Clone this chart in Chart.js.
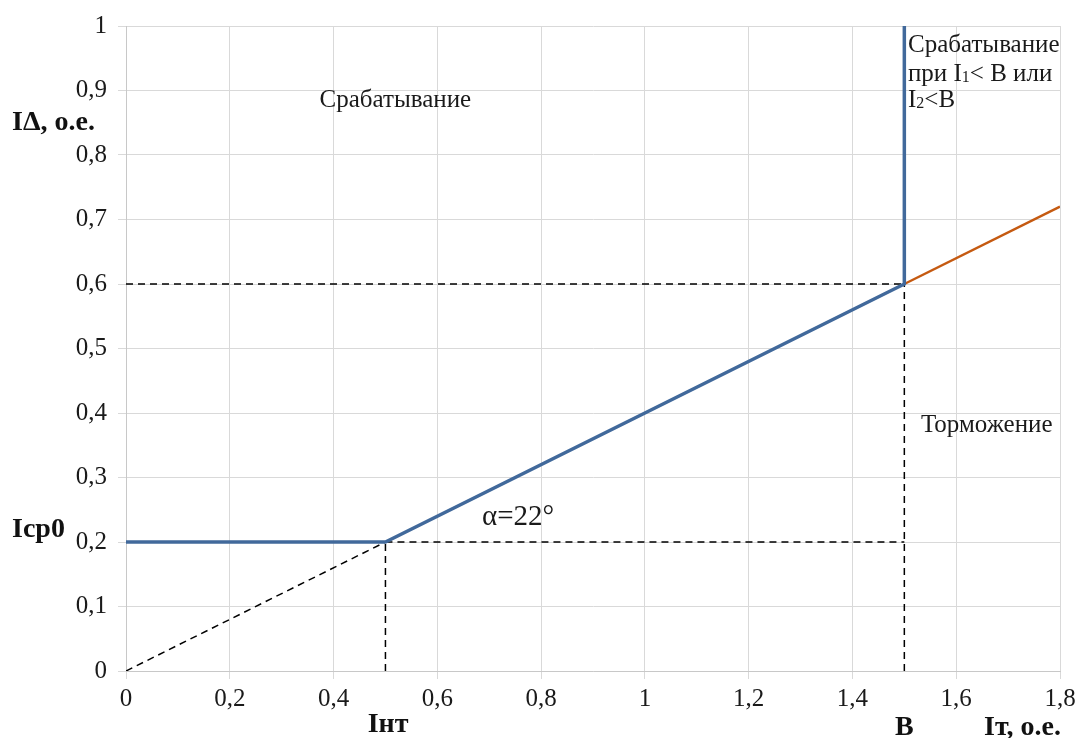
<!DOCTYPE html>
<html>
<head>
<meta charset="utf-8">
<script src="https://cdn.jsdelivr.net/npm/chart.js@4/dist/chart.umd.min.js"></script>
<style>
  html, body { margin: 0; padding: 0; background: #fff; }
  #wrap { width: 1077px; height: 738px; }
</style>
</head>
<body>
<div id="wrap"><canvas id="c" width="1077" height="738"></canvas></div>
<script>
// Tick values of both axes
const xTickValues = [0, 0.2, 0.4, 0.6, 0.8, 1, 1.2, 1.4, 1.6, 1.8];
const yTickValues = [0, 0.1, 0.2, 0.3, 0.4, 0.5, 0.6, 0.7, 0.8, 0.9, 1];

// Operating characteristic (blue): flat part, restrained slope, cut-off at B
const operateX = [0, 0.5, 1.5, 1.5];
const operateY = [0.2, 0.2, 0.6, 1.0];

// Continuation of the slope beyond B (orange)
const extendX = [1.5, 1.8];
const extendY = [0.6, 0.72];

// Dashed construction lines
const originGuideX = [0, 0.5];
const originGuideY = [0, 0.2];
const intGuideX = [0.5, 0.5];
const intGuideY = [0, 0.2];
const baseGuideX = [0.5, 1.5];
const baseGuideY = [0.2, 0.2];
const bGuideX = [1.5, 1.5];
const bGuideY = [0, 0.6];
const topGuideX = [0, 1.5];
const topGuideY = [0.6, 0.6];

const SERIF = "'Liberation Serif', 'Times New Roman', serif";

function pts(xs, ys) {
  return xs.map((x, i) => ({ x: x, y: ys[i] }));
}
function dashed(xs, ys) {
  return {
    data: pts(xs, ys),
    showLine: true,
    borderColor: '#000000',
    borderWidth: 1.5,
    borderDash: [7, 5],
    pointRadius: 0,
    fill: false,
    order: 3
  };
}
function fmt(v) {
  return String(v).replace('.', ',');
}

// Text drawn inside the plot, anchored at data coordinates
const plotTexts = [
  { parts: [{ t: 'Срабатывание' }], x: 0.373, y: 0.884, size: 25 },
  { parts: [{ t: 'Срабатывание' }], x: 1.507, y: 0.9705, size: 25 },
  { parts: [{ t: 'при I' }, { t: '1', sub: true }, { t: '< B или' }], x: 1.507, y: 0.9256, size: 25 },
  { parts: [{ t: 'I' }, { t: '2', sub: true }, { t: '<B' }], x: 1.507, y: 0.8853, size: 25 },
  { parts: [{ t: 'Торможение' }], x: 1.532, y: 0.381, size: 25 },
  { parts: [{ t: 'α=22°' }], x: 0.686, y: 0.238, size: 29 }
];

// Axis captions drawn outside the plot area
const captions = [
  { t: 'IΔ, о.е.', px: 12, py: 123, align: 'left' },
  { t: 'Iср0', px: 12, py: 530, align: 'left' },
  { t: 'Iнт', xv: 0.505, py: 725, align: 'center' },
  { t: 'B', xv: 1.5, py: 728, align: 'center' },
  { t: 'Iт, о.е.', px: 984, py: 728, align: 'left' }
];

function drawRich(ctx, parts, x, y, size) {
  let cx = x;
  parts.forEach(p => {
    if (p.sub) {
      ctx.font = Math.round(size * 0.62) + 'px ' + SERIF;
      ctx.fillText(p.t, cx, y + size * 0.17);
    } else {
      ctx.font = size + 'px ' + SERIF;
      ctx.fillText(p.t, cx, y);
    }
    cx += ctx.measureText(p.t).width;
  });
}

const textPlugin = {
  id: 'chartTexts',
  afterDraw(chart) {
    const ctx = chart.ctx;
    const xs = chart.scales.x, ys = chart.scales.y;
    ctx.save();
    ctx.fillStyle = '#1a1a1a';
    ctx.textBaseline = 'middle';
    ctx.textAlign = 'left';
    plotTexts.forEach(item => {
      drawRich(ctx, item.parts, xs.getPixelForValue(item.x), ys.getPixelForValue(item.y), item.size);
    });
    ctx.fillStyle = '#111';
    ctx.font = 'bold 28px ' + SERIF;
    captions.forEach(c => {
      ctx.textAlign = c.align;
      const px = (c.xv !== undefined) ? xs.getPixelForValue(c.xv) : c.px;
      ctx.fillText(c.t, px, c.py);
    });
    ctx.restore();
  }
};

new Chart(document.getElementById('c'), {
  type: 'scatter',
  data: {
    datasets: [
      dashed(originGuideX, originGuideY),
      dashed(intGuideX, intGuideY),
      dashed(baseGuideX, baseGuideY),
      dashed(bGuideX, bGuideY),
      dashed(topGuideX, topGuideY),
      {
        data: pts(extendX, extendY),
        showLine: true,
        borderColor: '#c55a11',
        borderWidth: 2.5,
        pointRadius: 0,
        fill: false,
        order: 2
      },
      {
        data: pts(operateX, operateY),
        showLine: true,
        borderColor: '#41699b',
        borderWidth: 3.5,
        pointRadius: 0,
        fill: false,
        borderJoinStyle: 'miter',
        order: 1
      }
    ]
  },
  options: {
    responsive: false,
    animation: false,
    devicePixelRatio: 1,
    layout: { padding: { left: 0, right: 17, top: 26, bottom: 0 } },
    plugins: {
      legend: { display: false },
      tooltip: { enabled: false }
    },
    scales: {
      x: {
        type: 'linear',
        min: 0,
        max: 1.8,
        afterBuildTicks: s => { s.ticks = xTickValues.map(v => ({ value: v })); },
        afterFit: s => { s.height = 67; s.paddingLeft = 0; s.paddingRight = 0; },
        grid: { color: '#d9d9d9', lineWidth: 1, tickLength: 8, tickColor: '#d9d9d9' },
        border: { color: '#c8c8c8', width: 1 },
        ticks: {
          maxRotation: 0,
          autoSkip: false,
          padding: 5,
          color: '#1a1a1a',
          font: { family: SERIF, size: 25 },
          callback: v => fmt(v)
        }
      },
      y: {
        type: 'linear',
        min: 0,
        max: 1,
        afterBuildTicks: s => { s.ticks = yTickValues.map(v => ({ value: v })); },
        afterFit: s => { s.width = 126; s.paddingTop = 0; s.paddingBottom = 0; },
        grid: { color: '#d9d9d9', lineWidth: 1, tickLength: 8, tickColor: '#d9d9d9' },
        border: { color: '#c8c8c8', width: 1 },
        ticks: {
          autoSkip: false,
          padding: 11,
          color: '#1a1a1a',
          font: { family: SERIF, size: 25 },
          callback: v => fmt(v)
        }
      }
    }
  },
  plugins: [textPlugin]
});
</script>
</body>
</html>
